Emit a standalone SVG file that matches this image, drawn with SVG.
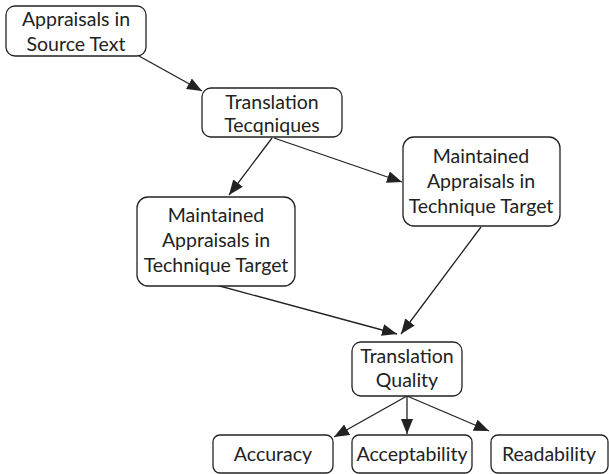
<svg xmlns="http://www.w3.org/2000/svg" width="609" height="474" viewBox="0 0 609 474">
<defs>
<style>
.box{fill:#fff;stroke:#222;stroke-width:1.3}
.t{font-family:Lato,"Open Sans",sans-serif;font-size:19.5px;fill:#222;text-anchor:middle}
.c line{stroke:#222;stroke-width:1.3;marker-end:url(#ah)}
</style>
<marker id="ah" markerWidth="15" markerHeight="12" refX="15" refY="6" orient="auto" markerUnits="userSpaceOnUse">
<path d="M0,0 L15,6 L0,12 Z" fill="#222"/>
</marker>
</defs>
<rect width="609" height="474" fill="#fff"/>
<g class="c" id="connectors">
<line x1="139" y1="56" x2="202" y2="91"/>
<line x1="272" y1="138" x2="229" y2="195"/>
<line x1="274" y1="138" x2="402" y2="182"/>
<line x1="216" y1="285" x2="397" y2="334"/>
<line x1="481" y1="227" x2="401" y2="334"/>
<line x1="407" y1="396" x2="334" y2="437"/>
<line x1="407" y1="396" x2="407" y2="434"/>
<line x1="407" y1="396" x2="489" y2="431"/>
</g>
<g id="n1"><rect class="box" x="6" y="6" width="140" height="50" rx="9"/><text class="t" x="76" y="26">Appraisals in</text><text class="t" x="76" y="51">Source Text</text></g>
<g id="n2"><rect class="box" x="202" y="88" width="140" height="49" rx="9"/><text class="t" x="272" y="109">Translation</text><text class="t" x="272" y="132">Tecqniques</text></g>
<g id="n3"><rect class="box" x="403" y="137" width="157" height="89" rx="11"/><text class="t" x="481" y="163">Maintained</text><text class="t" x="481" y="188">Appraisals in</text><text class="t" x="481" y="213">Technique Target</text></g>
<g id="n4"><rect class="box" x="137" y="197" width="158" height="89" rx="11"/><text class="t" x="216" y="222">Maintained</text><text class="t" x="216" y="247">Appraisals in</text><text class="t" x="216" y="272">Technique Target</text></g>
<g id="n5"><rect class="box" x="352" y="342" width="110" height="54" rx="9"/><text class="t" x="407" y="363">Translation</text><text class="t" x="407" y="387">Quality</text></g>
<g id="n6"><rect class="box" x="213" y="435" width="120" height="38" rx="7"/><text class="t" x="273" y="461">Accuracy</text></g>
<g id="n7"><rect class="box" x="352" y="435" width="120" height="38" rx="7"/><text class="t" x="412" y="461">Acceptability</text></g>
<g id="n8"><rect class="box" x="491" y="435" width="117" height="38" rx="7"/><text class="t" x="549" y="461">Readability</text></g>
</svg>
